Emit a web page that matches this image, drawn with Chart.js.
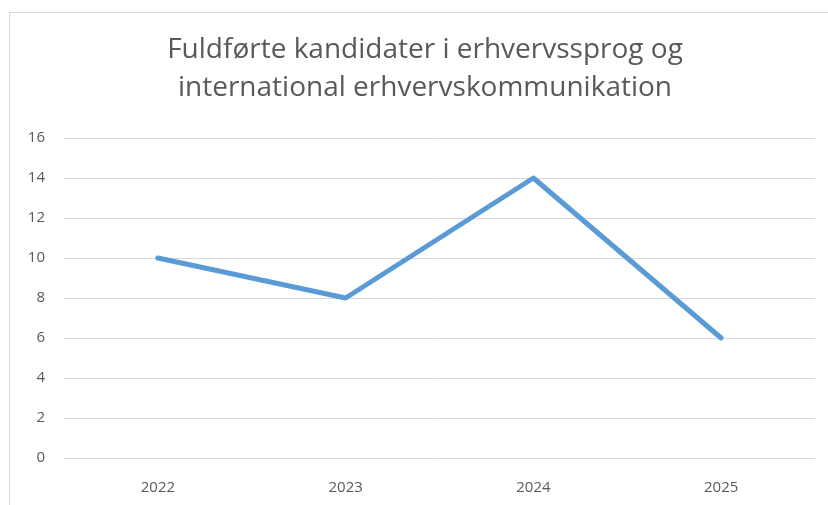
<!DOCTYPE html>
<html><head><meta charset="utf-8">
<script src="https://cdn.jsdelivr.net/npm/chart.js@4/dist/chart.umd.min.js"></script>
<style>
html,body{margin:0;padding:0;background:#fff;}
#wrap{position:relative;width:828px;height:505px;overflow:hidden;}
#frame{position:absolute;left:9px;top:12px;width:840px;height:520px;border:1px solid #d9d9d9;pointer-events:none;}
canvas{position:absolute;left:0;top:0;}
</style></head>
<body><div id="wrap"><canvas id="c" width="828" height="505"></canvas><div id="frame"></div></div>
<script>
const titleLines = ["Fuldførte kandidater i erhvervssprog og", "international erhvervskommunikation"];
const categories = ["2022", "2023", "2024", "2025"];
const values = [10, 8, 14, 6];
const yMin = 0, yMax = 16, yStep = 2;

const titlePlugin = {
  id: 'customTitle',
  afterDraw(chart) {
    const ctx = chart.ctx;
    ctx.save();
    ctx.fillStyle = '#595959';
    ctx.font = '28px "Open Sans"';
    ctx.textAlign = 'center';
    ctx.textBaseline = 'middle';
    ctx.fillText(titleLines[0], 425, 50);
    ctx.fillText(titleLines[1], 425, 88);
    ctx.restore();
  }
};

new Chart(document.getElementById('c'), {
  type: 'line',
  data: { labels: categories, datasets: [{ data: values, borderColor: '#5B9BD5', borderWidth: 5, pointRadius: 0, tension: 0, borderCapStyle: 'round', borderJoinStyle: 'round' }] },
  options: {
    responsive: false, animation: false, devicePixelRatio: 1,
    layout: { padding: { left: 0, right: 13, top: 138, bottom: 0 } },
    plugins: { legend: { display: false }, tooltip: { enabled: false }, title: { display: false } },
    scales: {
      x: { offset: true, grid: { display: false, drawTicks: false }, border: { display: false },
           ticks: { color: '#595959', font: { family: 'Open Sans', size: 15 }, padding: 21 },
           afterFit: s => { s.height = 47; } },
      y: { min: yMin, max: yMax, ticks: { stepSize: yStep, color: '#595959', font: { family: 'Open Sans', size: 15 }, padding: 19 },
           grid: { color: '#d9d9d9', lineWidth: 1, drawTicks: false }, border: { display: false },
           afterFit: s => { s.width = 64; } }
    }
  },
  plugins: [titlePlugin]
});
</script></body></html>
